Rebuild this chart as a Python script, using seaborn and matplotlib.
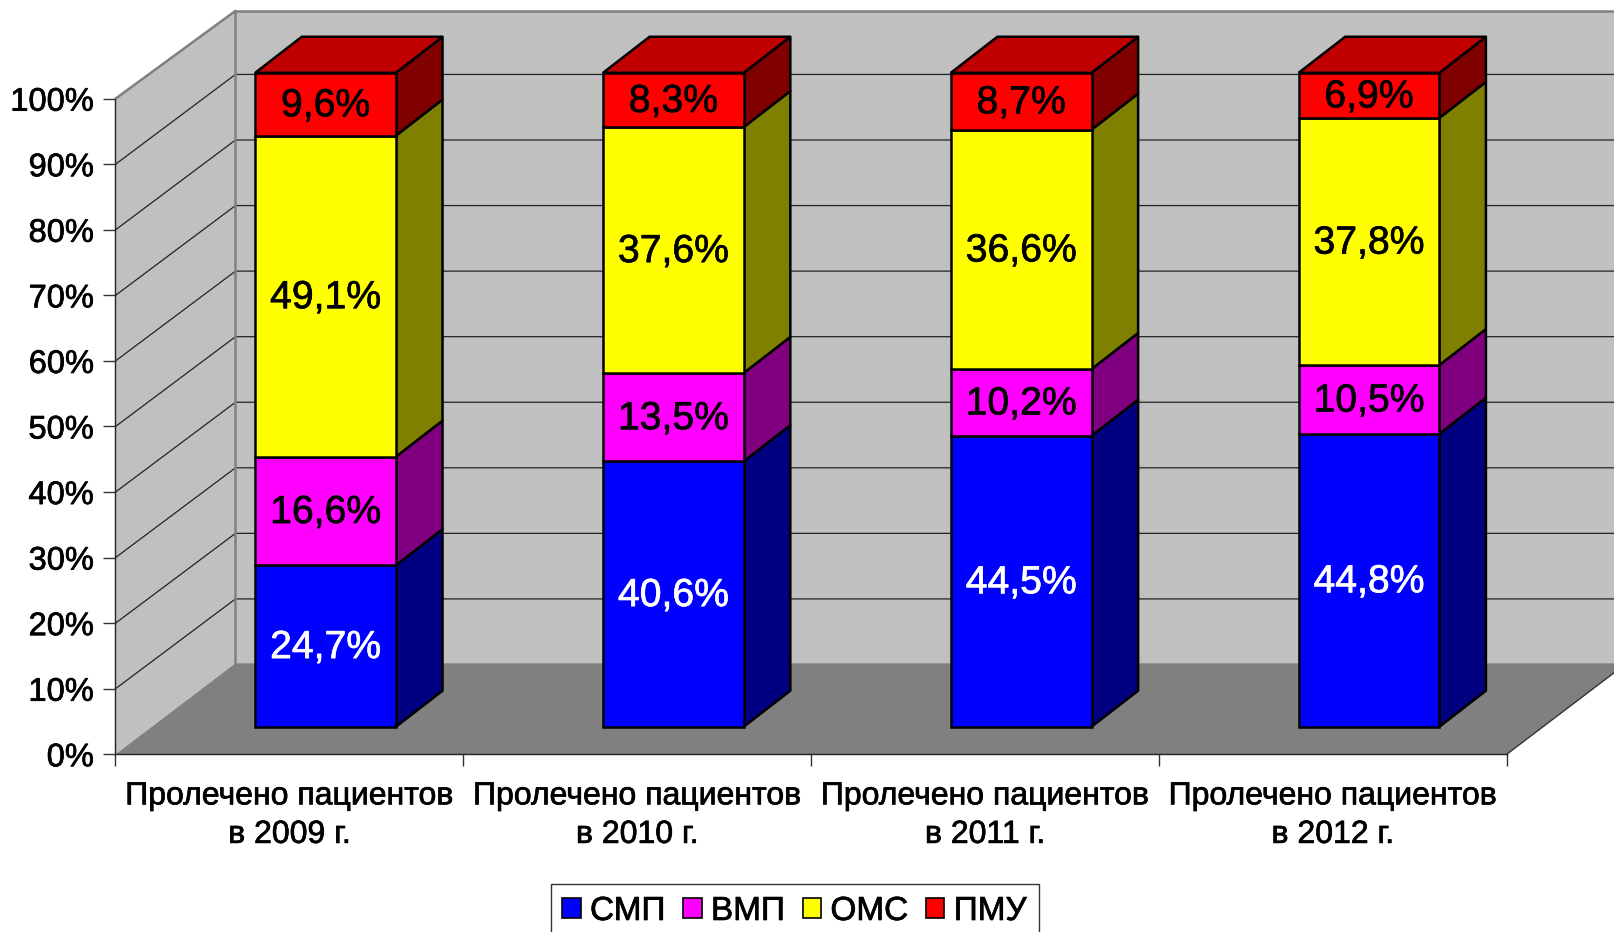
import numpy as np
import pandas as pd
import matplotlib
matplotlib.use("Agg")
import matplotlib.pyplot as plt
import matplotlib.patches as mpatches
import matplotlib.patheffects as pe
import seaborn as sns

years = ["2009", "2010", "2011", "2012"]
categories = [f"Пролечено пациентов\nв {y} г." for y in years]
series_names = ["СМП", "ВМП", "ОМС", "ПМУ"]
smp = [24.7, 40.6, 44.5, 44.8]
vmp = [16.6, 13.5, 10.2, 10.5]
oms = [49.1, 37.6, 36.6, 37.8]
pmu = [9.6, 8.3, 8.7, 6.9]
y_ticks = [0, 10, 20, 30, 40, 50, 60, 70, 80, 90, 100]

front_colors = ["#0000FF", "#FF00FF", "#FFFF00", "#FF0000"]
side_colors = ["#000080", "#800080", "#808000", "#800000"]
label_colors = ["white", "black", "black", "black"]
top_color = "#C00000"

# fake 3d: depth of the box and of the bars, in data units
DEPTH_X, DEPTH_Y = 0.345, 13.7
WALL_TOP_Y, FLOOR_Y = 13.4, 13.9
BAR_X, BAR_Y = 0.134, 5.5
SHIFT_X, SHIFT_Y = 0.104, 4.2
BAR_W = 0.4045
BAR_SCALE = 0.9975


def thicken(text, color="black"):
    # the reference text is a little heavier than Liberation Sans
    text.set_path_effects([pe.withStroke(linewidth=0.5, foreground=color)])


sns.set_style("white")
plt.rcParams["font.family"] = ["Liberation Sans", "DejaVu Sans"]
plt.rcParams["text.color"] = "black"
plt.rcParams["xtick.color"] = "black"
plt.rcParams["ytick.color"] = "black"

fig = plt.figure(figsize=(16.14, 9.32), dpi=100)
ax = fig.add_axes([115.5 / 1614, (932 - 754.3) / 932, (1506.7 - 115.5) / 1614, 655.6 / 932])
ax.patch.set_visible(False)
ax.set_xlim(-0.5, 3.5)
ax.set_ylim(0, 100)

x0, x1 = -0.5, 3.5
# walls and floor
ax.fill([x0 + DEPTH_X, x1 + DEPTH_X, x1 + DEPTH_X, x0 + DEPTH_X],
        [FLOOR_Y, FLOOR_Y, 100 + WALL_TOP_Y, 100 + WALL_TOP_Y],
        facecolor="#C0C0C0", edgecolor="none", clip_on=False, zorder=0)
ax.fill([x0, x0 + DEPTH_X, x0 + DEPTH_X, x0], [0, FLOOR_Y, 100 + WALL_TOP_Y, 100],
        facecolor="#C0C0C0", edgecolor="none", clip_on=False, zorder=0)
for t in y_ticks[1:-1]:
    ax.plot([x0, x0 + DEPTH_X, x1 + DEPTH_X], [t, t + DEPTH_Y, t + DEPTH_Y],
            color="#222222", lw=0.9, clip_on=False, zorder=1)
ax.plot([x0, x0 + DEPTH_X, x0 + DEPTH_X], [100, 100 + WALL_TOP_Y, FLOOR_Y],
        color="#808080", lw=1.8, clip_on=False, zorder=1)
ax.plot([x0 + DEPTH_X, x1 + DEPTH_X], [100 + WALL_TOP_Y, 100 + WALL_TOP_Y],
        color="#808080", lw=1.8, clip_on=False, zorder=1)
ax.fill([x0, x1, x1 + DEPTH_X, x0 + DEPTH_X], [0, 0, FLOOR_Y, FLOOR_Y],
        facecolor="#808080", edgecolor="none", clip_on=False, zorder=2)
ax.plot([x1, x1 + DEPTH_X], [0, FLOOR_Y], color="#333333", lw=1, clip_on=False, zorder=2)

positions = np.arange(len(categories))
bar_x = positions + SHIFT_X
values = [smp, vmp, oms, pmu]
bottoms = np.zeros(len(categories)) + SHIFT_Y

for k, name in enumerate(series_names):
    vals = np.array(values[k]) * BAR_SCALE
    df = pd.DataFrame({"x": bar_x, "y": vals})
    # side faces go first so that the front edge stays on top
    for xp, b, v in zip(bar_x, bottoms, vals):
        xr = xp + BAR_W / 2
        ax.fill([xr, xr + BAR_X, xr + BAR_X, xr],
                [b, b + BAR_Y, b + v + BAR_Y, b + v],
                facecolor=side_colors[k], edgecolor="black", lw=1.8,
                joinstyle="round", clip_on=False, zorder=3)
    sns.barplot(data=df, x="x", y="y", ax=ax, native_scale=True, width=BAR_W,
                bottom=bottoms, color=front_colors[k], saturation=1, errorbar=None,
                edgecolor="black", linewidth=1.8, zorder=4, clip_on=False)
    # bar_label centres on the part inside the axes, which breaks the top series
    for xp, b, v, raw in zip(bar_x, bottoms, vals, values[k]):
        label = ax.annotate(f"{raw:.1f}%".replace(".", ","), xy=(xp, b + v / 2),
                            xytext=(0, -1.5), textcoords="offset points",
                            ha="center", va="center", fontsize=28.2,
                            color=label_colors[k], zorder=6, annotation_clip=False)
        thicken(label, label_colors[k])
    bottoms = bottoms + vals

for xp, t in zip(bar_x, bottoms):
    xl, xr = xp - BAR_W / 2, xp + BAR_W / 2
    ax.fill([xl, xr, xr + BAR_X, xl + BAR_X], [t, t, t + BAR_Y, t + BAR_Y],
            facecolor=top_color, edgecolor="black", lw=1.8, clip_on=False, zorder=3)

ax.set_xlim(-0.5, 3.5)
ax.set_ylim(0, 100)
ax.set_xlabel("")
ax.set_ylabel("")
ax.set_yticks(y_ticks)
ax.set_yticklabels([f"{t}%" for t in y_ticks], fontsize=23.5)
ax.set_xticks(np.arange(-0.5, 4))
ax.set_xticklabels([])
ax.set_xticks(positions, labels=categories, minor=True, fontsize=23.05, linespacing=1.37)
ax.tick_params(axis="x", which="major", length=8.6, width=1, color="#333333", bottom=True)
ax.tick_params(axis="x", which="minor", length=0, pad=19.5, bottom=True)
ax.tick_params(axis="y", length=8.6, width=1, color="#333333", pad=7, left=True)
for side in ["top", "right"]:
    ax.spines[side].set_visible(False)
for side in ["left", "bottom"]:
    ax.spines[side].set_color("#222222")
    ax.spines[side].set_linewidth(1)
    ax.spines[side].set_zorder(3)
for tick_label in ax.get_yticklabels() + ax.get_xticklabels(minor=True):
    thicken(tick_label)

handles = [mpatches.Patch(facecolor=c, edgecolor="black", lw=1.2) for c in front_colors]
leg = fig.legend(handles, series_names, loc="center", bbox_to_anchor=(794.6 / 1614, (932 - 911.5) / 932),
                 ncol=4, fontsize=24, frameon=True, fancybox=False, edgecolor="#333333",
                 framealpha=1, handlelength=0.55, handleheight=0.55, handletextpad=0.28,
                 columnspacing=0.53, borderpad=0.35, borderaxespad=0)
for text in leg.get_texts():
    thicken(text)

fig.savefig("out.png", dpi=100)
